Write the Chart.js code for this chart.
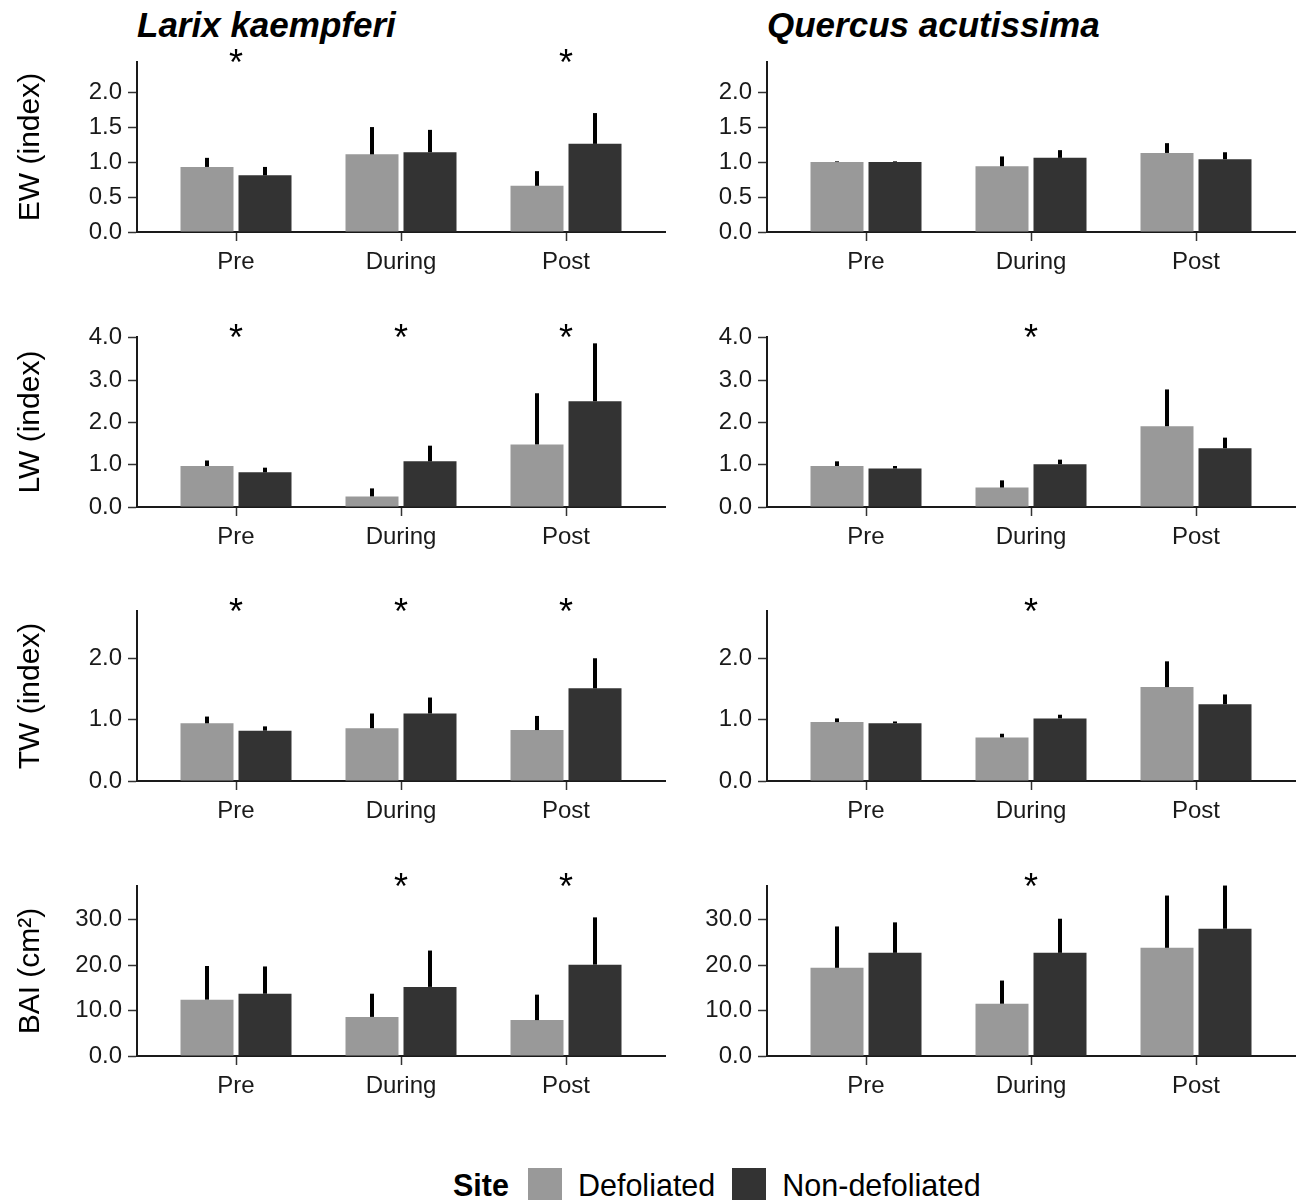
<!DOCTYPE html>
<html>
<head>
<meta charset="utf-8">
<script src="https://cdn.jsdelivr.net/npm/chart.js@4/dist/chart.umd.min.js"></script>
<style>
html,body{margin:0;padding:0;background:#fff;}
body{width:1304px;height:1200px;position:relative;overflow:hidden;font-family:"Liberation Sans",Arial,sans-serif;}
canvas{position:absolute;}
.species{position:absolute;font-weight:bold;font-style:italic;font-size:35px;line-height:35px;color:#000;top:7px;white-space:nowrap;}
#legend{position:absolute;left:453px;top:1168px;display:flex;align-items:center;font-size:30.5px;line-height:34px;white-space:nowrap;color:#000;}
#legend .ttl{font-weight:bold;margin-right:19px;}
#legend .box{width:34px;height:34px;display:inline-block;margin-right:16px;}
#legend .lab{margin-right:17px;}
</style>
</head>
<body>
<div id="titles"></div>
<div id="legend"></div>
<script>
// ---------- data ----------
const categories = ['Pre', 'During', 'Post'];
const siteNames = ['Defoliated', 'Non-defoliated'];
const speciesNames = ['Larix kaempferi', 'Quercus acutissima'];
const variableTitles = ['EW (index)', 'LW (index)', 'TW (index)', 'BAI (cm\u00B2)'];

// EW
const ewLarixDef = [0.93, 1.11, 0.66];
const ewLarixDefUpper = [1.06, 1.50, 0.87];
const ewLarixNon = [0.81, 1.14, 1.26];
const ewLarixNonUpper = [0.93, 1.46, 1.70];
const ewQuercusDef = [1.00, 0.94, 1.13];
const ewQuercusDefUpper = [1.01, 1.08, 1.27];
const ewQuercusNon = [1.00, 1.06, 1.04];
const ewQuercusNonUpper = [1.01, 1.17, 1.14];
// LW
const lwLarixDef = [0.97, 0.25, 1.48];
const lwLarixDefUpper = [1.10, 0.44, 2.69];
const lwLarixNon = [0.82, 1.08, 2.50];
const lwLarixNonUpper = [0.93, 1.45, 3.87];
const lwQuercusDef = [0.97, 0.46, 1.91];
const lwQuercusDefUpper = [1.08, 0.63, 2.78];
const lwQuercusNon = [0.91, 1.01, 1.39];
const lwQuercusNonUpper = [0.97, 1.12, 1.64];
// TW
const twLarixDef = [0.94, 0.86, 0.83];
const twLarixDefUpper = [1.05, 1.10, 1.06];
const twLarixNon = [0.82, 1.10, 1.51];
const twLarixNonUpper = [0.89, 1.36, 2.00];
const twQuercusDef = [0.96, 0.71, 1.53];
const twQuercusDefUpper = [1.02, 0.77, 1.95];
const twQuercusNon = [0.94, 1.02, 1.25];
const twQuercusNonUpper = [0.97, 1.08, 1.41];
// BAI
const baiLarixDef = [12.4, 8.6, 7.9];
const baiLarixDefUpper = [19.8, 13.7, 13.5];
const baiLarixNon = [13.7, 15.2, 20.1];
const baiLarixNonUpper = [19.7, 23.2, 30.5];
const baiQuercusDef = [19.4, 11.5, 23.8];
const baiQuercusDefUpper = [28.5, 16.6, 35.3];
const baiQuercusNon = [22.7, 22.7, 28.0];
const baiQuercusNonUpper = [29.4, 30.2, 37.5];

// significance marks (*)
const sigLarixEW = [true, false, true];
const sigQuercusEW = [false, false, false];
const sigLarixLW = [true, true, true];
const sigQuercusLW = [false, true, false];
const sigLarixTW = [true, true, true];
const sigQuercusTW = [false, true, false];
const sigLarixBAI = [false, true, true];
const sigQuercusBAI = [false, true, false];

// y tick labels / limits
const ewTicks = [0, 0.5, 1.0, 1.5, 2.0];
const lwTicks = [0, 1, 2, 3, 4];
const twTicks = [0, 1, 2];
const baiTicks = [0, 10, 20, 30];
const yLimits = [2.43, 4.02, 2.77, 37.4];

// ---------- layout / style ----------
const FONT = '"Liberation Sans", Arial, sans-serif';
const siteColors = ['#999999', '#333333'];
const axisTops = [62, 337, 611, 886];
const plotH = 170;
const padTop = 40, xAxisH = 50;
const cols = [
  {canvasLeft: 0, width: 668, yAxisW: 137, padRight: 3},
  {canvasLeft: 668, width: 636, yAxisW: 99, padRight: 9}
];

const rows = [
  {title: variableTitles[0], ticks: ewTicks, max: yLimits[0], panels: [
    {def: ewLarixDef, defUp: ewLarixDefUpper, non: ewLarixNon, nonUp: ewLarixNonUpper, sig: sigLarixEW},
    {def: ewQuercusDef, defUp: ewQuercusDefUpper, non: ewQuercusNon, nonUp: ewQuercusNonUpper, sig: sigQuercusEW}]},
  {title: variableTitles[1], ticks: lwTicks, max: yLimits[1], panels: [
    {def: lwLarixDef, defUp: lwLarixDefUpper, non: lwLarixNon, nonUp: lwLarixNonUpper, sig: sigLarixLW},
    {def: lwQuercusDef, defUp: lwQuercusDefUpper, non: lwQuercusNon, nonUp: lwQuercusNonUpper, sig: sigQuercusLW}]},
  {title: variableTitles[2], ticks: twTicks, max: yLimits[2], panels: [
    {def: twLarixDef, defUp: twLarixDefUpper, non: twLarixNon, nonUp: twLarixNonUpper, sig: sigLarixTW},
    {def: twQuercusDef, defUp: twQuercusDefUpper, non: twQuercusNon, nonUp: twQuercusNonUpper, sig: sigQuercusTW}]},
  {title: variableTitles[3], ticks: baiTicks, max: yLimits[3], panels: [
    {def: baiLarixDef, defUp: baiLarixDefUpper, non: baiLarixNon, nonUp: baiLarixNonUpper, sig: sigLarixBAI},
    {def: baiQuercusDef, defUp: baiQuercusDefUpper, non: baiQuercusNon, nonUp: baiQuercusNonUpper, sig: sigQuercusBAI}]}
];

const annotPlugin = {
  id: 'annot',
  afterDatasetsDraw(chart, args, opts) {
    const ctx = chart.ctx, ys = chart.scales.y, xs = chart.scales.x;
    ctx.save();
    ctx.strokeStyle = '#000';
    ctx.lineWidth = 4;
    chart.data.datasets.forEach((ds, di) => {
      const meta = chart.getDatasetMeta(di);
      meta.data.forEach((el, i) => {
        const top = ys.getPixelForValue(ds.upper[i]);
        ctx.beginPath();
        ctx.moveTo(el.x, el.y);
        ctx.lineTo(el.x, top);
        ctx.stroke();
      });
    });
    ctx.fillStyle = '#000';
    ctx.font = '36px ' + FONT;
    ctx.textAlign = 'center';
    ctx.textBaseline = 'alphabetic';
    (opts.sig || []).forEach((s, i) => {
      if (s) ctx.fillText('*', xs.getPixelForValue(i + 1), chart.chartArea.top + 13);
    });
    ctx.restore();
  }
};

function makeChart(r, c) {
  const row = rows[r], p = row.panels[c], col = cols[c];
  const cv = document.createElement('canvas');
  const h = padTop + plotH + xAxisH;
  cv.width = col.width; cv.height = h;
  cv.style.left = col.canvasLeft + 'px';
  cv.style.top = (axisTops[r] - padTop) + 'px';
  cv.style.width = col.width + 'px'; cv.style.height = h + 'px';
  document.body.appendChild(cv);
  const toXY = arr => arr.map((v, i) => ({x: i + 1, y: v}));
  new Chart(cv, {
    type: 'bar',
    data: {
      datasets: [
        {label: siteNames[0], data: toXY(p.def), upper: p.defUp, backgroundColor: siteColors[0]},
        {label: siteNames[1], data: toXY(p.non), upper: p.nonUp, backgroundColor: siteColors[1]}
      ]
    },
    options: {
      responsive: false,
      animation: false,
      devicePixelRatio: 1,
      categoryPercentage: 116 / 165,
      barPercentage: 53 / 58,
      layout: {padding: {top: padTop, right: col.padRight, left: 0, bottom: 0}},
      plugins: {legend: {display: false}, tooltip: {enabled: false}, annot: {sig: p.sig}},
      scales: {
        x: {
          type: 'linear', min: 0.4, max: 3.6, offset: false, bounds: 'data',
          afterBuildTicks: s => { s.ticks = categories.map((_, i) => ({value: i + 1})); },
          afterFit: s => { s.height = xAxisH; },
          ticks: {callback: v => categories[v - 1], font: {family: FONT, size: 24}, color: '#1a1a1a', padding: 7, maxRotation: 0, autoSkip: false},
          grid: {display: true, offset: false, drawOnChartArea: false, drawTicks: true, tickLength: 9, tickWidth: 1.5, tickColor: '#333'},
          border: {display: true, color: '#1a1a1a', width: 2}
        },
        y: {
          min: 0, max: row.max,
          afterBuildTicks: s => { s.ticks = row.ticks.map(v => ({value: v})); },
          afterFit: s => { s.width = col.yAxisW; },
          ticks: {callback: v => Number(v).toFixed(1), font: {family: FONT, size: 24}, color: '#1a1a1a', padding: 6, autoSkip: false},
          grid: {display: true, drawOnChartArea: false, drawTicks: true, tickLength: 9, tickWidth: 1.5, tickColor: '#333'},
          border: {display: true, color: '#1a1a1a', width: 2},
          title: {display: c === 0, text: row.title, font: {family: FONT, size: 30}, color: '#000', padding: {top: 13, bottom: 0}}
        }
      }
    },
    plugins: [annotPlugin]
  });
}

for (let r = 0; r < rows.length; r++) for (let c = 0; c < 2; c++) makeChart(r, c);

// species titles
const titleLefts = [137, 767];
speciesNames.forEach((n, i) => {
  const d = document.createElement('div');
  d.className = 'species'; d.textContent = n; d.style.left = titleLefts[i] + 'px';
  document.getElementById('titles').appendChild(d);
});

// legend
const lg = document.getElementById('legend');
const t = document.createElement('span'); t.className = 'ttl'; t.textContent = 'Site'; lg.appendChild(t);
siteNames.forEach((n, i) => {
  const b = document.createElement('span'); b.className = 'box'; b.style.background = siteColors[i]; lg.appendChild(b);
  const l = document.createElement('span'); l.className = 'lab'; l.textContent = n; lg.appendChild(l);
});
</script>
</body>
</html>
